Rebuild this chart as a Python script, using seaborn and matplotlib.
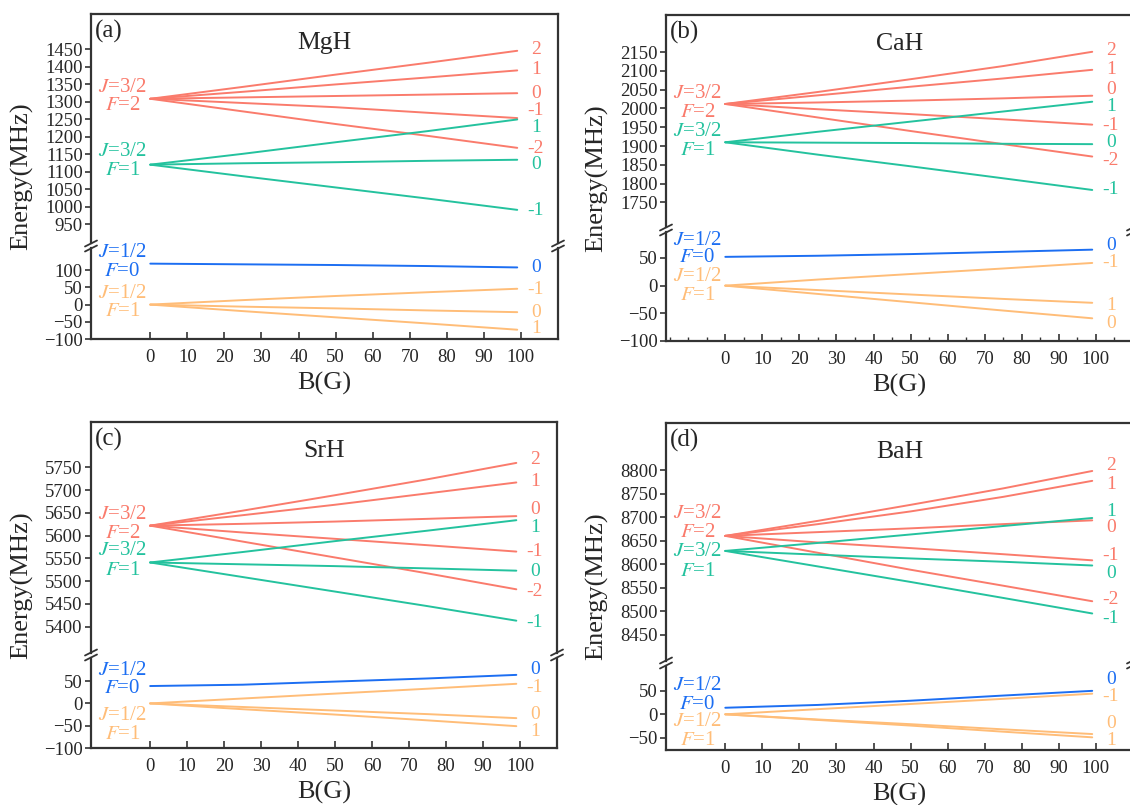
import matplotlib
matplotlib.use("Agg")
import matplotlib.pyplot as plt
from matplotlib.lines import Line2D
from matplotlib.ticker import MultipleLocator
import seaborn as sns
import pandas as pd

# field values (G) where energies were read
b_field = [0, 25, 50, 75, 99]

# colours for the four hyperfine manifolds
c_j32f2 = "#FA7B6C"
c_j32f1 = "#24C29E"
c_j12f0 = "#1C6EF2"
c_j12f1 = "#FFBD78"

# ---- MgH (MHz) ----
mgh_f2 = {"2": [1308, 1342, 1377, 1411, 1445], "1": [1308, 1328, 1349, 1369, 1389],
          "0": [1308, 1312, 1316, 1320, 1324], "-1": [1308, 1296, 1284, 1268, 1253],
          "-2": [1308, 1272, 1236, 1202, 1168]}
mgh_f1 = {"1": [1120, 1151, 1184, 1216, 1249], "0": [1120, 1124, 1127, 1131, 1134],
          "-1": [1120, 1087, 1055, 1023, 991]}
mgh_f0 = {"0": [119, 117, 115, 112, 108]}
mgh_low = {"-1": [0, 13, 25, 36, 46], "0": [0, -6, -11, -17, -22], "1": [0, -19, -37, -55, -73]}

# ---- CaH ----
cah_f2 = {"2": [2012, 2044, 2078, 2113, 2151], "1": [2012, 2035, 2058, 2080, 2103],
          "0": [2012, 2016, 2021, 2027, 2034], "-1": [2012, 1998, 1985, 1971, 1957],
          "-2": [2012, 1976, 1940, 1905, 1872]}
cah_f1 = {"1": [1910, 1938, 1965, 1992, 2018], "0": [1910, 1909, 1908, 1906, 1905],
          "-1": [1910, 1877, 1846, 1814, 1783]}
cah_f0 = {"0": [52, 54, 57, 61, 65]}
cah_low = {"-1": [0, 11, 21, 31, 41], "1": [0, -8, -16, -24, -31], "0": [0, -15, -30, -45, -59]}

# ---- SrH ----
srh_f2 = {"2": [5622, 5655, 5689, 5724, 5760], "1": [5622, 5645, 5668, 5693, 5717],
          "0": [5622, 5626, 5631, 5637, 5643], "-1": [5622, 5607, 5593, 5579, 5565],
          "-2": [5622, 5587, 5552, 5517, 5482]}
srh_f1 = {"1": [5541, 5564, 5588, 5611, 5634], "0": [5541, 5537, 5533, 5528, 5523],
          "-1": [5541, 5509, 5477, 5445, 5413]}
srh_f0 = {"0": [39, 42, 49, 56, 64]}
srh_low = {"-1": [0, 11, 22, 33, 44], "0": [0, -8, -16, -24, -33], "1": [0, -13, -25, -38, -51]}

# ---- BaH ----
bah_f2 = {"2": [8660, 8692, 8726, 8761, 8798], "1": [8660, 8685, 8712, 8743, 8777],
          "0": [8660, 8668, 8676, 8685, 8693], "-1": [8660, 8646, 8634, 8621, 8608],
          "-2": [8660, 8624, 8588, 8554, 8521]}
bah_f1 = {"1": [8628, 8645, 8663, 8681, 8698], "0": [8628, 8620, 8612, 8605, 8597],
          "-1": [8628, 8595, 8562, 8528, 8495]}
bah_f0 = {"0": [14, 20, 29, 40, 50]}
bah_low = {"-1": [0, 11, 22, 33, 44], "0": [0, -11, -21, -32, -42], "1": [0, -12, -24, -37, -49]}

# label heights (MHz) for the M_F column on the right and the J/F tags on the left
mgh_mf_up = [("2", 1450, c_j32f2), ("1", 1392, c_j32f2), ("0", 1324, c_j32f2), ("-1", 1275, c_j32f2),
             ("1", 1225, c_j32f1), ("-2", 1167, c_j32f2), ("0", 1120, c_j32f1), ("-1", 990, c_j32f1)]
mgh_mf_lo = [("0", 109, c_j12f0), ("-1", 43, c_j12f1), ("0", -22, c_j12f1), ("1", -70, c_j12f1)]
cah_mf_up = [("2", 2155, c_j32f2), ("1", 2104, c_j32f2), ("0", 2050, c_j32f2), ("1", 2004, c_j32f1),
             ("-1", 1955, c_j32f2), ("0", 1910, c_j32f1), ("-2", 1861, c_j32f2), ("-1", 1783, c_j32f1)]
cah_mf_lo = [("0", 73, c_j12f0), ("-1", 41, c_j12f1), ("1", -35, c_j12f1), ("0", -68, c_j12f1)]
srh_mf_up = [("2", 5767, c_j32f2), ("1", 5720, c_j32f2), ("0", 5658, c_j32f2), ("1", 5618, c_j32f1),
             ("-1", 5565, c_j32f2), ("0", 5522, c_j32f1), ("-2", 5478, c_j32f2), ("-1", 5408, c_j32f1)]
srh_mf_lo = [("0", 77, c_j12f0), ("-1", 35, c_j12f1), ("0", -25, c_j12f1), ("1", -64, c_j12f1)]
bah_mf_up = [("2", 8810, c_j32f2), ("1", 8770, c_j32f2), ("1", 8712, c_j32f1), ("0", 8677, c_j32f2),
             ("-1", 8619, c_j32f2), ("0", 8581, c_j32f1), ("-2", 8525, c_j32f2), ("-1", 8485, c_j32f1)]
bah_mf_lo = [("0", 74, c_j12f0), ("-1", 38, c_j12f1), ("0", -19, c_j12f1), ("1", -55, c_j12f1)]

mgh_tags_up = [("$J$=3/2", 1341, c_j32f2), ("$F$=2", 1288, c_j32f2),
               ("$J$=3/2", 1158, c_j32f1), ("$F$=1", 1102, c_j32f1)]
mgh_tags_lo = [("$J$=1/2", 151, c_j12f0), ("$F$=0", 97, c_j12f0),
               ("$J$=1/2", 32, c_j12f1), ("$F$=1", -21, c_j12f1)]
cah_tags_up = [("$J$=3/2", 2039, c_j32f2), ("$F$=2", 1989, c_j32f2),
               ("$J$=3/2", 1938, c_j32f1), ("$F$=1", 1887, c_j32f1)]
cah_tags_lo = [("$J$=1/2", 81, c_j12f0), ("$F$=0", 50, c_j12f0),
               ("$J$=1/2", 16, c_j12f1), ("$F$=1", -17, c_j12f1)]
srh_tags_up = [("$J$=3/2", 5647, c_j32f2), ("$F$=2", 5604, c_j32f2),
               ("$J$=3/2", 5567, c_j32f1), ("$F$=1", 5524, c_j32f1)]
srh_tags_lo = [("$J$=1/2", 74, c_j12f0), ("$F$=0", 33, c_j12f0),
               ("$J$=1/2", -28, c_j12f1), ("$F$=1", -70, c_j12f1)]
bah_tags_up = [("$J$=3/2", 8707, c_j32f2), ("$F$=2", 8667, c_j32f2),
               ("$J$=3/2", 8626, c_j32f1), ("$F$=1", 8584, c_j32f1)]
bah_tags_lo = [("$J$=1/2", 62, c_j12f0), ("$F$=0", 21, c_j12f0),
               ("$J$=1/2", -16, c_j12f1), ("$F$=1", -56, c_j12f1)]

# Style
sns.set_style("ticks")
plt.rcParams["font.family"] = ["Liberation Serif", "DejaVu Serif"]
plt.rcParams["mathtext.fontset"] = "stix"

W, H = 1130, 805
fig = plt.figure(figsize=(W / 100, H / 100), dpi=100)
frame = "#333333"


def draw_lines(ax, groups):
    for lines, color in groups:
        for mf, vals in lines.items():
            df = pd.DataFrame({"B": b_field, "E": vals})
            sns.lineplot(data=df, x="B", y="E", ax=ax, color=color, lw=1.4, legend=False)


def style_axis(ax):
    ax.set_xlim(-16, 110)
    ax.set_xlabel("")
    ax.set_ylabel("")
    for s in ax.spines.values():
        s.set_linewidth(1.6)
        s.set_color(frame)
    ax.tick_params(axis="y", direction="out", length=4, width=1.2, labelsize=13.5, pad=2, color=frame)
    ax.tick_params(axis="x", direction="in", length=5, width=1.2, labelsize=13.5, pad=7, color=frame)


def panel(box, tag, name, ylim_up, ylim_lo, ticks_up, ticks_lo, up_groups, lo_groups,
          mf_up, mf_lo, tags_up, tags_lo, minor=False):
    l, r, t, brk, b = box
    g = 2.5
    ax_u = fig.add_axes([l / W, 1 - (brk - g) / H, (r - l) / W, (brk - g - t) / H])
    ax_l = fig.add_axes([l / W, 1 - b / H, (r - l) / W, (b - brk - g) / H])
    draw_lines(ax_u, up_groups)
    draw_lines(ax_l, lo_groups)
    for ax in (ax_u, ax_l):
        style_axis(ax)
    ax_u.set_ylim(*ylim_up)
    ax_l.set_ylim(*ylim_lo)
    ax_u.set_yticks(ticks_up)
    ax_l.set_yticks(ticks_lo)
    ax_u.spines["bottom"].set_visible(False)
    ax_l.spines["top"].set_visible(False)
    ax_u.tick_params(axis="x", bottom=False, labelbottom=False)
    ax_l.set_xticks(range(0, 101, 10))
    if minor:
        ax_l.xaxis.set_minor_locator(MultipleLocator(5))
        ax_l.tick_params(axis="x", which="minor", direction="in", length=3, width=1.0, color=frame)

    # labels
    for txt, y, c in mf_up:
        ax_u.text(104, y, txt, color=c, fontsize=14, ha="center", va="center", clip_on=False)
    for txt, y, c in mf_lo:
        ax_l.text(104, y, txt, color=c, fontsize=14, ha="center", va="center", clip_on=False)
    for txt, y, c in tags_up:
        ax_u.text(-7.5, y, txt, color=c, fontsize=15, ha="center", va="center", clip_on=False)
    for txt, y, c in tags_lo:
        ax_l.text(-7.5, y, txt, color=c, fontsize=15, ha="center", va="center", clip_on=False)
    hu = brk - g - t
    ax_u.text(104, 1 - 15 / hu, "$M_F$", transform=ax_u.get_yaxis_transform(), fontsize=15,
              ha="center", va="center")
    ax_u.text(0.5, 1 - 29 / hu, name, transform=ax_u.transAxes, fontsize=18.5, ha="center", va="center")
    ax_u.text(4 / (r - l), 1 - 17 / hu, tag, transform=ax_u.transAxes, fontsize=18, ha="left", va="center")

    # axis titles
    fig.text((l - 69) / W, 1 - (t + b) / 2 / H, "Energy(MHz)", rotation=90, fontsize=19,
             ha="center", va="center")
    fig.text((l + r) / 2 / W, 1 - (b + 44) / H, "B(G)", fontsize=19, ha="center", va="center")

    # break marks on both spines
    for xs in (l, r):
        for dy in (-g, g):
            yc = brk + dy
            fig.add_artist(Line2D([(xs - 6) / W, (xs + 6) / W],
                                  [1 - (yc + 3) / H, 1 - (yc - 3) / H],
                                  transform=fig.transFigure, color=frame, lw=1.3))


panel((91, 558, 14, 246, 339), "(a)", "MgH", (895, 1550), (-100, 163),
      range(950, 1451, 50), range(-100, 101, 50),
      [(mgh_f2, c_j32f2), (mgh_f1, c_j32f1)], [(mgh_f0, c_j12f0), (mgh_low, c_j12f1)],
      mgh_mf_up, mgh_mf_lo, mgh_tags_up, mgh_tags_lo)
panel((666, 1133, 15, 230, 341), "(b)", "CaH", (1683, 2249), (-100, 96),
      range(1750, 2151, 50), range(-100, 51, 50),
      [(cah_f2, c_j32f2), (cah_f1, c_j32f1)], [(cah_f0, c_j12f0), (cah_low, c_j12f1)],
      cah_mf_up, cah_mf_lo, cah_tags_up, cah_tags_lo, minor=True)
panel((91, 557, 422, 655, 748), "(c)", "SrH", (5343, 5850), (-100, 103),
      range(5400, 5751, 50), range(-100, 51, 50),
      [(srh_f2, c_j32f2), (srh_f1, c_j32f1)], [(srh_f0, c_j12f0), (srh_low, c_j12f1)],
      srh_mf_up, srh_mf_lo, srh_tags_up, srh_tags_lo)
panel((666, 1133, 423, 663, 750), "(d)", "BaH", (8395, 8900), (-76, 104),
      range(8450, 8801, 50), range(-50, 51, 50),
      [(bah_f2, c_j32f2), (bah_f1, c_j32f1)], [(bah_f0, c_j12f0), (bah_low, c_j12f1)],
      bah_mf_up, bah_mf_lo, bah_tags_up, bah_tags_lo)

fig.savefig("out.png", dpi=100)
